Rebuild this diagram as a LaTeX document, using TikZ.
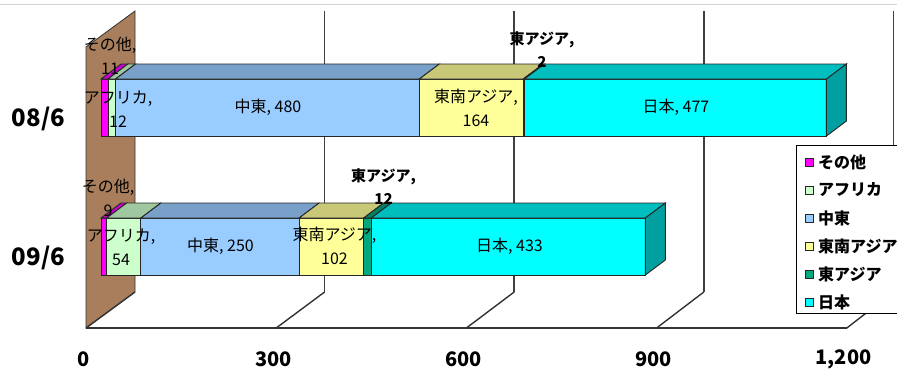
\documentclass[tikz,border=0pt]{standalone}
\usepackage{fontspec}
\setmainfont{Noto Sans CJK JP}
\definecolor{wall}{RGB}{168,126,92}
\definecolor{sonota}{RGB}{255,0,255}
\definecolor{topsonota}{RGB}{204,0,204}
\definecolor{africa}{RGB}{204,255,204}
\definecolor{topafrica}{RGB}{160,200,160}
\definecolor{chuto}{RGB}{153,204,255}
\definecolor{topchuto}{RGB}{120,160,200}
\definecolor{seasia}{RGB}{255,255,153}
\definecolor{topseasia}{RGB}{200,200,120}
\definecolor{easia}{RGB}{0,168,128}
\definecolor{topeasia}{RGB}{0,128,100}
\definecolor{japan}{RGB}{0,255,255}
\definecolor{topjapan}{RGB}{0,190,190}
\definecolor{sidejapan}{RGB}{0,160,160}
\begin{document}
\begin{tikzpicture}[x=1pt,y=-1pt,
  grid/.style={draw=black!75, line width=1.6pt},
  floorline/.style={draw=black!80, line width=1.4pt},
  face/.style={draw=black!85, line width=0.9pt},
  seglabel/.style={font=\fontsize{16}{24}\selectfont, align=center, inner sep=0pt},
  eastlabel/.style={font=\fontsize{15}{23}\selectfont\bfseries, align=center, inner sep=0pt},
  catlabel/.style={font=\fontsize{24}{28}\selectfont\bfseries, inner sep=0pt},
  axlabel/.style={font=\fontsize{20}{24}\selectfont\bfseries, inner sep=0pt},
  legtext/.style={font=\fontsize{16}{20}\selectfont\bfseries, anchor=west, inner sep=0pt},
  legkey/.style={draw=black!85, line width=0.8pt}]
\useasboundingbox (0,0) rectangle (897,372);
% Frame line at the top
\draw[gray!35, line width=1pt] (0,4) -- (897,4);
% Draw left wall
\filldraw[fill=wall, draw=black!80, line width=0.8pt] (86,47) -- (135,11) -- (135,292) -- (86,328) -- cycle;
% Draw grid on back wall and floor
\foreach \v in {300,600,900,1200}
  \draw[grid] ({135+0.632*\v},11) -- ({135+0.632*\v},292);
\foreach \v in {0,300,600,900,1200}
  \draw[floorline] ({86+0.634*\v},328) -- ({135+0.632*\v},292);
\draw[floorline] (86,328) -- (847,328);
% Draw bars
\foreach \yt/\segs/\last in {79/{0/11/sonota,11/23/africa,23/503/chuto,503/667/seasia,667/669/easia,669/1146/japan}/1146,
                             218/{0/9/sonota,9/63/africa,63/313/chuto,313/415/seasia,415/427/easia,427/860/japan}/860} {
  \foreach \a/\b/\c in \segs {
    \filldraw[face, fill=\c] ({101+0.633*\a},\yt) rectangle ({101+0.633*\b},\yt+57);
    \filldraw[face, fill=top\c] ({101+0.633*\a},\yt) -- ++(20,-15) -- ({121+0.633*\b},\yt-15) -- ({101+0.633*\b},\yt) -- cycle;
  }
  \filldraw[face, fill=sidejapan] ({101+0.633*\last},\yt) -- ++(20,-15) -- ++(0,57) -- ({101+0.633*\last},\yt+57) -- cycle;
}
% Labels of 08/6
\node[seglabel] (sonota08) at (110,55.5) {その他,\\11};
\node[seglabel] (africa08) at (118,109.5) {アフリカ,\\12};
\node[seglabel] (chuto08) at (268,107) {中東, 480};
\node[seglabel] (seasia08) at (476,108) {東南アジア,\\164};
\node[eastlabel] (easia08) at (542,49.5) {東アジア,\\2};
\node[seglabel] (japan08) at (676,107) {日本, 477};
% Labels of 09/6
\node[seglabel] (sonota09) at (108,198) {その他,\\9};
\node[seglabel] (africa09) at (121,247.5) {アフリカ,\\54};
\node[seglabel] (chuto09) at (220.5,246) {中東, 250};
\node[seglabel] (seasia09) at (334.5,246) {東南アジア,\\102};
\node[eastlabel] (easia09) at (383.5,186.5) {東アジア,\\12};
\node[seglabel] (japan09) at (509.5,246) {日本, 433};
% Category and value axis labels
\node[catlabel] (cat08) at (38.5,119) {08/6};
\node[catlabel] (cat09) at (38.5,258) {09/6};
\foreach \v/\t in {0/0,300/300,600/600,900/900,1200/{1,200}}
  \node[axlabel] (ax\v) at ({84+0.633*\v},359) {\t};
% Legend
\filldraw[fill=white, draw=black, line width=1pt] (796,145) rectangle (905,313);
\foreach \c/\t [count=\i from 0] in {sonota/その他,africa/アフリカ,chuto/中東,seasia/東南アジア,easia/東アジア,japan/日本} {
  \filldraw[legkey, fill=\c] (805,{158+28*\i}) rectangle ++(8,8);
  \node[legtext] (leg\c) at (818,{162+28*\i}) {\t};
}
\end{tikzpicture}
\end{document}
